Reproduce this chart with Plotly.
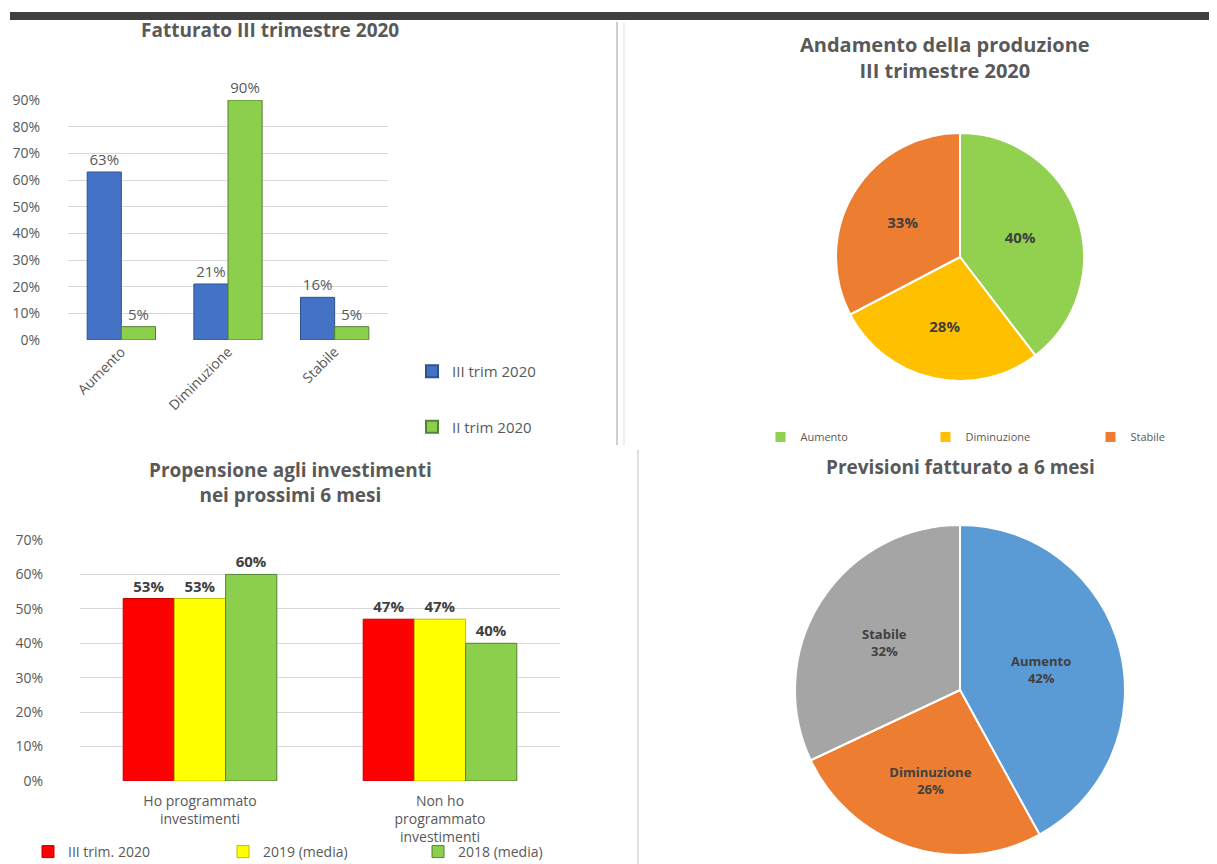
import plotly.graph_objects as go

W, H = 1217, 864
OFF = 8  # page body margin
def px(x): return (x - OFF) / W
def py(y): return 1 - (y - OFF) / H

# ---- Data ----
fatt_categories = ["Aumento", "Diminuzione", "Stabile"]
fatt_iii_trim = [0.63, 0.21, 0.16]
fatt_ii_trim = [0.05, 0.90, 0.05]
fatt_ticks = [0, 0.1, 0.2, 0.3, 0.4, 0.5, 0.6, 0.7, 0.8, 0.9]

prod_labels = ["Aumento", "Diminuzione", "Stabile"]
prod_values = [40, 28, 33]

inv_categories = ["Ho programmato<br>investimenti", "Non ho<br>programmato<br>investimenti"]
inv_iii_trim = [0.53, 0.47]
inv_2019 = [0.53, 0.47]
inv_2018 = [0.60, 0.40]
inv_ticks = [0, 0.1, 0.2, 0.3, 0.4, 0.5, 0.6, 0.7]

prev_labels = ["Aumento", "Diminuzione", "Stabile"]
prev_values = [42, 26, 32]

FONT = "Open Sans"
GRAY = "#595959"

fig = go.Figure()

# ---- Top-left bar chart ----
fig.add_trace(go.Bar(x=fatt_categories, y=fatt_iii_trim, name="III trim 2020",
                     marker=dict(color="#4472C4", line=dict(color="#2F528F", width=1)),
                     text=[f"{v:.0%}" for v in fatt_iii_trim], textposition="outside",
                     textfont=dict(size=15, color=GRAY), cliponaxis=False,
                     xaxis="x", yaxis="y", legend="legend", legendgroup="a"))
fig.add_trace(go.Bar(x=fatt_categories, y=fatt_ii_trim, name="II trim 2020",
                     marker=dict(color="#8CCF4D", line=dict(color="#548235", width=1)),
                     text=[f"{v:.0%}" for v in fatt_ii_trim], textposition="outside",
                     textfont=dict(size=15, color=GRAY), cliponaxis=False,
                     xaxis="x", yaxis="y", legend="legend", legendgroup="b"))

# ---- Bottom-left bar chart ----
fig.add_trace(go.Bar(x=inv_categories, y=inv_iii_trim, name="III trim. 2020",
                     marker=dict(color="#FF0000", line=dict(color="#C00000", width=1)),
                     text=[f"<b>{v:.0%}</b>" for v in inv_iii_trim], textposition="outside",
                     textfont=dict(size=15, color="#404040"), cliponaxis=False,
                     xaxis="x2", yaxis="y2", legend="legend3"))
fig.add_trace(go.Bar(x=inv_categories, y=inv_2019, name="2019 (media)",
                     marker=dict(color="#FFFF00", line=dict(color="#BFBF00", width=1)),
                     text=[f"<b>{v:.0%}</b>" for v in inv_2019], textposition="outside",
                     textfont=dict(size=15, color="#404040"), cliponaxis=False,
                     xaxis="x2", yaxis="y2", legend="legend3"))
fig.add_trace(go.Bar(x=inv_categories, y=inv_2018, name="2018 (media)",
                     marker=dict(color="#8CCF4D", line=dict(color="#548235", width=1)),
                     text=[f"<b>{v:.0%}</b>" for v in inv_2018], textposition="outside",
                     textfont=dict(size=15, color="#404040"), cliponaxis=False,
                     xaxis="x2", yaxis="y2", legend="legend3"))

# ---- Top-right pie ----
r1 = 124
fig.add_trace(go.Pie(labels=prod_labels, values=prod_values, sort=False,
                     direction="clockwise", rotation=0,
                     marker=dict(colors=["#92D050", "#FFC000", "#ED7D31"],
                                 line=dict(color="white", width=2)),
                     texttemplate="<b>%{value}%</b>", textposition="inside",
                     insidetextorientation="horizontal",
                     textfont=dict(size=15, color="#404040", family=FONT),
                     domain=dict(x=[px(960 - r1), px(960 + r1)], y=[py(257 + r1), py(257 - r1)]),
                     legend="legend2", showlegend=True))

# ---- Bottom-right pie ----
r2 = 165
fig.add_trace(go.Pie(labels=prev_labels, values=prev_values, sort=False,
                     direction="clockwise", rotation=0,
                     marker=dict(colors=["#5B9BD5", "#ED7D31", "#A5A5A5"],
                                 line=dict(color="white", width=2)),
                     texttemplate="<b>%{label}</b><br><b>%{value}%</b>", textposition="inside",
                     insidetextorientation="horizontal",
                     textfont=dict(size=13, color="#404040", family=FONT),
                     domain=dict(x=[px(960 - r2), px(960 + r2)], y=[py(690 + r2), py(690 - r2)]),
                     showlegend=False))

axis_common = dict(showline=False, zeroline=False, ticks="", automargin=False,
                   tickfont=dict(size=14, color=GRAY, family=FONT))

fig.update_layout(
    width=W, height=H,
    margin=dict(l=0, r=0, t=0, b=0, autoexpand=False),
    paper_bgcolor="white", plot_bgcolor="white",
    font=dict(family=FONT, color=GRAY),
    barmode="group", bargap=0.36,
    xaxis=dict(domain=[px(68), px(388)], anchor="y", tickangle=-45, **axis_common,
               showgrid=False),
    yaxis=dict(domain=[py(340), py(100)], anchor="x", range=[0, 0.9], tickvals=fatt_ticks,
               tickformat=".0%", gridcolor="#D9D9D9", ticklabelstandoff=27, **axis_common),
    xaxis2=dict(domain=[px(80), px(560)], anchor="y2", ticklabelstandoff=10, **axis_common,
                showgrid=False),
    yaxis2=dict(domain=[py(781), py(540)], anchor="x2", range=[0, 0.7], tickvals=inv_ticks,
                tickformat=".0%", gridcolor="#D9D9D9", ticklabelstandoff=36, **axis_common),
    legend=dict(x=px(412), y=py(355), xanchor="left", yanchor="top", orientation="v",
                tracegroupgap=33, font=dict(size=15, color=GRAY), bgcolor="rgba(0,0,0,0)",
                itemsizing="constant"),
    legend2=dict(x=px(1008), y=py(437), xanchor="center", yanchor="middle", orientation="h",
                 font=dict(size=11, color=GRAY), bgcolor="rgba(0,0,0,0)", itemwidth=30,
                 entrywidth=120),
    legend3=dict(x=px(28), y=py(852), xanchor="left", yanchor="middle", orientation="h",
                 font=dict(size=14, color=GRAY), bgcolor="rgba(0,0,0,0)", entrywidth=150),
    showlegend=True,
)

# Titles as annotations
titles = [
    ("<b>Fatturato III trimestre 2020</b>", 270, 30, 19),
    ("<b>Andamento della produzione<br>III trimestre 2020</b>", 945, 58, 20),
    ("<b>Propensione agli investimenti<br>nei prossimi 6 mesi</b>", 290, 482, 19),
    ("<b>Previsioni fatturato a 6 mesi</b>", 960, 467, 19),
]
for text, x, y, s in titles:
    fig.add_annotation(text=text, x=px(x), y=py(y), xref="paper", yref="paper",
                       showarrow=False, xanchor="center", yanchor="middle",
                       font=dict(size=s, color=GRAY, family=FONT))

# Decorative frame elements
fig.add_shape(type="rect", xref="paper", yref="paper", x0=px(10), x1=1, y0=py(20), y1=py(12),
              fillcolor="#404040", line=dict(width=0))
fig.add_shape(type="line", xref="paper", yref="paper", x0=px(617), x1=px(617), y0=py(445), y1=py(22),
              line=dict(color="#D0D0D0", width=2))
fig.add_shape(type="line", xref="paper", yref="paper", x0=px(624), x1=px(624), y0=py(445), y1=py(22),
              line=dict(color="#E0E0E0", width=1))
fig.add_shape(type="line", xref="paper", yref="paper", x0=px(638), x1=px(638), y0=py(864), y1=py(450),
              line=dict(color="#E0E0E0", width=2))

fig.write_html("out.html")
